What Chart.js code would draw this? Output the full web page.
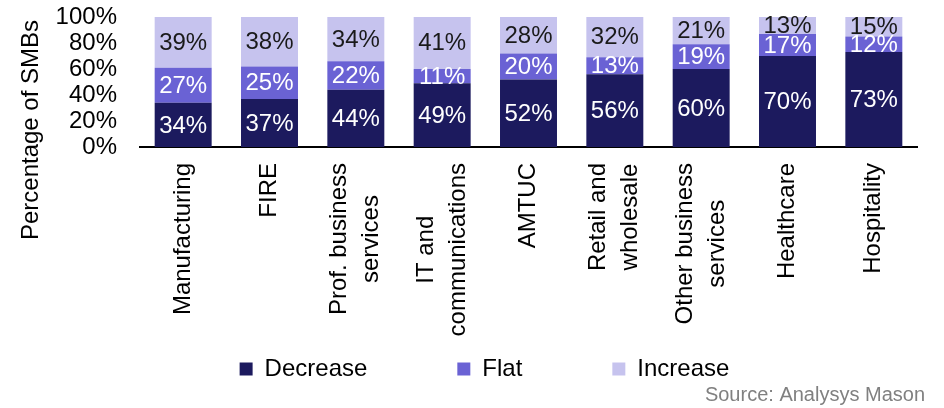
<!DOCTYPE html>
<html>
<head>
<meta charset="utf-8">
<script src="https://cdn.jsdelivr.net/npm/chart.js@4.4.1/dist/chart.umd.min.js"></script>
<style>
  html, body { margin: 0; padding: 0; background: #fff; }
  #wrap { width: 944px; height: 408px; }
</style>
</head>
<body>
<div id="wrap"><canvas id="smb-chart" width="944" height="408"></canvas></div>
<script>
// categories (multi-line labels), values in %
const categories = [
  ['Manufacturing'],
  ['FIRE'],
  ['Prof. business', 'services'],
  ['IT and', 'communications'],
  ['AMTUC'],
  ['Retail and', 'wholesale'],
  ['Other business', 'services'],
  ['Healthcare'],
  ['Hospitality']
]
const decrease = [34, 37, 44, 49, 52, 56, 60, 70, 73]
const flat = [27, 25, 22, 11, 20, 13, 19, 17, 12]
const increase = [39, 38, 34, 41, 28, 32, 21, 13, 15]
const yTicks = [0, 20, 40, 60, 80, 100]

const FONT = "'Liberation Sans', Arial, sans-serif"
const labelColors = ['#ffffff', '#ffffff', '#1a1a1a']

Chart.defaults.font.family = FONT
Chart.defaults.color = '#000'

// value labels in the middle of each segment
const segmentLabels = {
  id: 'segmentLabels',
  afterDatasetsDraw(chart) {
    const ctx = chart.ctx
    ctx.save()
    ctx.font = '24px ' + FONT
    ctx.textAlign = 'center'
    ctx.textBaseline = 'middle'
    chart.data.datasets.forEach((ds, i) => {
      chart.getDatasetMeta(i).data.forEach((bar, j) => {
        const {x, y, base} = bar.getProps(['x', 'y', 'base'], true)
        ctx.fillStyle = labelColors[i]
        ctx.fillText(ds.data[j] + '%', x, (y + base) / 2 + 1)
      })
    })
    ctx.restore()
  }
}

// rotated category labels, lines centred on each other
const categoryLabels = {
  id: 'categoryLabels',
  afterDraw(chart) {
    const ctx = chart.ctx
    const xs = chart.scales.x
    ctx.save()
    ctx.font = '24px ' + FONT
    ctx.fillStyle = '#000'
    ctx.textAlign = 'center'
    ctx.textBaseline = 'middle'
    categories.forEach((lines, i) => {
      const w = Math.max(...lines.map(l => ctx.measureText(l).width))
      ctx.save()
      ctx.translate(xs.getPixelForTick(i), xs.top + 16)
      ctx.rotate(-Math.PI / 2)
      lines.forEach((l, j) => ctx.fillText(l, -w / 2, (j - (lines.length - 1) / 2) * 32))
      ctx.restore()
    })
    ctx.restore()
  }
}

// y axis title and source note
const extraText = {
  id: 'extraText',
  afterDraw(chart) {
    const ctx = chart.ctx
    ctx.save()
    ctx.fillStyle = '#000'
    ctx.font = '24px ' + FONT
    ctx.textAlign = 'center'
    ctx.textBaseline = 'middle'
    ctx.translate(31, 130)
    ctx.rotate(-Math.PI / 2)
    ctx.fillText('Percentage of SMBs', 0, 0)
    ctx.restore()

    ctx.save()
    ctx.fillStyle = '#808080'
    ctx.font = '20px ' + FONT
    ctx.textAlign = 'right'
    ctx.textBaseline = 'middle'
    ctx.fillText('Source: Analysys Mason', 925, 395)
    ctx.restore()
  }
}

new Chart(document.getElementById('smb-chart').getContext('2d'), {
  type: 'bar',
  data: {
    labels: categories,
    datasets: [
      {
        label: 'Decrease',
        backgroundColor: '#1c1a5e',
        borderWidth: 0,
        data: decrease
      },
      {
        label: 'Flat',
        backgroundColor: '#6a62d4',
        borderWidth: 0,
        data: flat
      },
      {
        label: 'Increase',
        backgroundColor: '#c6c3ee',
        borderWidth: 0,
        data: increase
      }
    ]
  },
  options: {
    responsive: false,
    animation: false,
    devicePixelRatio: 1,
    barPercentage: 0.66,
    categoryPercentage: 1,
    layout: { padding: { left: 52, right: 27, top: 17, bottom: 17 } },
    scales: {
      x: {
        stacked: true,
        grid: { display: false, drawTicks: false },
        border: { display: true, color: '#000', width: 2 },
        ticks: { display: false },
        afterFit: s => { s.height = 120 }
      },
      y: {
        stacked: true,
        min: 0,
        max: 100,
        grid: { display: false, drawTicks: false },
        border: { display: false },
        ticks: {
          padding: 23,
          autoSkip: false,
          font: { size: 24 },
          color: '#000',
          callback: v => v + '%'
        },
        afterBuildTicks: s => { s.ticks = yTicks.map(v => ({ value: v })) },
        afterFit: s => {
          s.width = 88
          s.paddingTop = 14
          s.paddingBottom = 14
        }
      }
    },
    plugins: {
      legend: {
        position: 'bottom',
        labels: {
          boxWidth: 13,
          boxHeight: 13,
          padding: 90,
          color: '#000',
          font: { size: 24 }
        }
      },
      tooltip: { enabled: false }
    }
  },
  plugins: [segmentLabels, categoryLabels, extraText]
})
</script>
</body>
</html>
